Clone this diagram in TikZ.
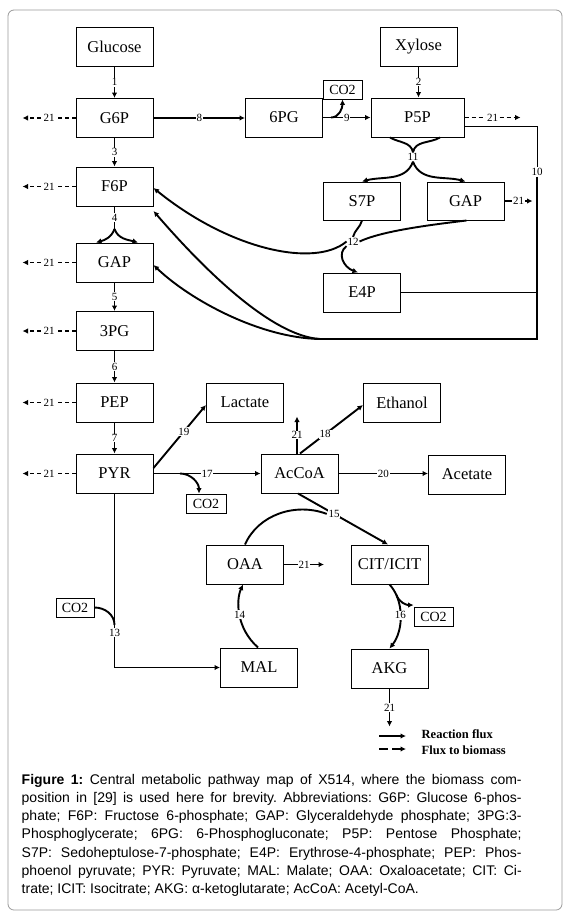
\documentclass[tikz,border=0pt]{standalone}
\usepackage{fontspec}
\setmainfont{Liberation Serif}
\newfontfamily\capfont{Liberation Sans}
\usetikzlibrary{arrows.meta}
\frenchspacing
\begin{document}
\begin{tikzpicture}[x=1pt,y=-1pt,
  box/.style={draw, line width=1pt, minimum width=77pt, minimum height=39pt, inner sep=0pt, font=\fontsize{16.5}{18}\selectfont},
  cobox/.style={draw, line width=0.9pt, minimum width=39pt, minimum height=19pt, inner sep=0pt, font=\fontsize{14}{16}\selectfont},
  flux/.style={line width=1.9pt, -{Latex[length=5.5pt,width=5.5pt]}},
  bio/.style={flux, dash pattern=on 4pt off 3pt},
  conn/.style={line width=1.9pt},
  lbl/.style={fill=white, inner sep=0.8pt, font=\fontsize{11}{12}\selectfont},
  legtext/.style={anchor=west, inner sep=0pt, font=\bfseries\fontsize{12.5}{14}\selectfont}
]
\useasboundingbox (0,0) rectangle (570,918);
\draw[black!40, line width=0.8pt, rounded corners=6pt] (8,10) rectangle (562,910);

% boxes
\node[box] (Glc) at (114.5,46.5) {Glucose};
\node[box] (G6P) at (114.5,118) {G6P};
\node[box] (F6P) at (114.5,186.5) {F6P};
\node[box] (GAPl) at (114.5,262.5) {GAP};
\node[box] (PG3) at (114.5,331) {3PG};
\node[box] (PEP) at (114.5,402.5) {PEP};
\node[box] (PYR) at (114.5,473.5) {PYR};
\node[box] (PG6) at (284,117.5) {6PG};
\node[box] (Xyl) at (418.5,46.5) {Xylose};
\node[box, minimum width=93pt] (P5P) at (417.5,117.5) {P5P};
\node[box, minimum height=38pt] (S7P) at (362,201) {S7P};
\node[box, minimum height=38pt] (GAPr) at (465.5,201) {GAP};
\node[box] (E4P) at (362,292.5) {E4P};
\node[box] (Lac) at (245,402.5) {Lactate};
\node[box] (Eth) at (402,402.5) {Ethanol};
\node[box] (AcCoA) at (299.5,473.5) {AcCoA};
\node[box] (Ace) at (467,474.5) {Acetate};
\node[box] (OAA) at (245,564.5) {OAA};
\node[box] (CIT) at (389.5,564.5) {CIT/ICIT};
\node[box] (MAL) at (259,667.5) {MAL};
\node[box] (AKG) at (389.5,668.5) {AKG};
\node[cobox] (COa) at (342.5,89.5) {CO2};
\node[cobox, minimum width=40pt] (COb) at (206,503.5) {CO2};
\node[cobox, minimum width=38pt] (COc) at (75,607.5) {CO2};
\node[cobox] (COd) at (433.5,616.5) {CO2};

% glycolysis
\draw[flux] (Glc.south) -- node[lbl]{1} (G6P.north);
\draw[flux] (G6P.south) -- node[lbl]{3} (F6P.north);
\coordinate (s4) at (114.5,229);
\draw[conn] (F6P.south) -- node[lbl]{4} (s4);
\draw[flux] (s4) to[out=-110,in=15] ([xshift=-18.5pt]GAPl.north);
\draw[flux] (s4) to[out=-70,in=165] ([xshift=23.5pt]GAPl.north);
\draw[flux] (GAPl.south) -- node[lbl]{5} (PG3.north);
\draw[flux] (PG3.south) -- node[lbl]{6} (PEP.north);
\draw[flux] (PEP.south) -- node[lbl]{7} (PYR.north);

% biomass arrows on the left
\foreach \n in {G6P,F6P,GAPl,PG3,PEP,PYR}
  \draw[bio] (\n.west) -- node[lbl]{21} ([xshift=-53pt]\n.west);

% pentose phosphate
\draw[flux] (Xyl.south) -- node[lbl]{2} (Xyl.south |- P5P.north);
\draw[flux] (G6P.east) -- node[lbl]{8} (G6P.east -| PG6.west);
\draw[flux] (PG6.east) -- node[lbl]{9} (P5P.west);
\coordinate (b9) at (331,117.5);
\draw[flux] (b9) to[out=0,in=-90] (COa.south);
\draw[bio] (P5P.east) -- node[lbl]{21} ([xshift=56pt]P5P.east);
\draw[flux] (GAPr.east) -- node[lbl]{21} ([xshift=28pt]GAPr.east);

\node[lbl] (r11) at (413,157) {11};
\draw[conn] ([xshift=-27.5pt]P5P.south) to[out=-30,in=100] (r11.north);
\draw[conn] ([xshift=22.5pt]P5P.south) to[out=210,in=80] (r11.north);
\draw[flux] (r11.south) to[out=-110,in=15] (S7P.north);
\draw[flux] (r11.south) to[out=-70,in=165] (GAPr.north);

\node[lbl] (r12) at (353,241.5) {12};
\draw[conn] (S7P.south) to[out=-105,in=75] (r12.north);
\draw[conn] ([xshift=1pt]GAPr.south) .. controls (420,226) and (380,232) .. (r12.east);
\draw[flux] (r12.south west) .. controls (337,253) and (343,267) .. ([xshift=-4pt]E4P.north);
\draw[flux] (r12.west) .. controls (315,268) and (230,250) .. ([yshift=-1.5pt]F6P.east);

\node[lbl] (r10) at (537,172) {10};
\coordinate (c10a) at (537,126);
\coordinate (c10b) at (537,339);
\coordinate (c10c) at (320,339);
\coordinate (c10e) at (537,292.5);
\draw[line width=1pt] ([yshift=-8.5pt]P5P.east) -- (c10a) -- (r10.north);
\draw[conn] (r10.south) -- (c10b) -- (c10c);
\draw[conn] (E4P.east) -- (c10e);
\draw[flux] (c10c) .. controls (270,336) and (200,265) .. ([yshift=-4.5pt]F6P.south east);
\draw[flux] (c10c) .. controls (260,338) and (190,300) .. ([yshift=-2.5pt]GAPl.east);

% pyruvate branch
\draw[flux] (PYR.east) -- node[lbl]{17} (AcCoA.west);
\coordinate (b17) at (180,473.5);
\draw[flux] (b17) to[out=0,in=90] ([xshift=-7pt]COb.north);
\draw[flux] ([yshift=5.5pt]PYR.east) -- node[lbl,pos=0.58]{19} ([yshift=-2.5pt]Lac.west);
\draw[flux] ([xshift=0.5pt]AcCoA.north) -- node[lbl,pos=0.4]{18} ([yshift=-2.5pt]Eth.west);
\draw[flux] ([xshift=-2.5pt]AcCoA.north) -- node[lbl]{21} ([xshift=-2.5pt,yshift=37pt]AcCoA.north);
\draw[flux] (AcCoA.east) -- node[lbl]{20} (AcCoA.east -| Ace.west);
\draw[flux] ([xshift=-1.5pt]AcCoA.south) -- node[lbl,pos=0.4] (r15) {15} ([xshift=-1.5pt]CIT.north);
\draw[conn] (OAA.north) .. controls (258,515) and (295,502) .. (r15.west);
\draw[flux] (OAA.east) -- node[lbl]{21} ([xshift=40pt]OAA.east);

\draw[flux] (PYR.south) |- node[lbl,pos=0.4]{13} (MAL.west);
\coordinate (b13) at (114.5,625);
\draw[conn] (COc.east) to[out=0,in=90] (b13);
\draw[flux] ([xshift=-1pt]MAL.north) .. controls (236,628) and (236,600) .. node[lbl]{14} ([xshift=-2pt]OAA.south);

\draw[flux] (CIT.south) .. controls (404,600) and (404,630) .. node[lbl]{16} (AKG.north);
\coordinate (b16) at (396.5,595);
\draw[flux] (b16) to[out=-70,in=180] ([yshift=1.5pt]COd.north west);
\draw[flux] (AKG.south) -- node[lbl]{21} ([yshift=-38pt]AKG.south);

% legend
\coordinate (lga) at (379,736);
\coordinate (lgb) at (406,736);
\coordinate (lgc) at (379,749);
\coordinate (lgd) at (406,749);
\draw[flux] (lga) -- (lgb);
\draw[flux, dash pattern=on 9pt off 4pt] (lgc) -- (lgd);
\node[legtext] (lt1) at (421.5,734) {Reaction flux};
\node[legtext] (lt2) at (421.5,750) {Flux to biomass};

% caption
\node[anchor=base west, inner sep=0pt, font=\capfont\fontsize{14}{18.3}\selectfont] (cap) at (21.5,784) {\vtop{\baselineskip=18.3pt
\hbox to 500pt{\textbf{Figure 1:} Central metabolic pathway map of X514, where the biomass com-}
\hbox to 500pt{position in [29] is used here for brevity. Abbreviations: G6P: Glucose 6-phos-}
\hbox to 500pt{phate; F6P: Fructose 6-phosphate; GAP: Glyceraldehyde phosphate; 3PG:3-}
\hbox to 500pt{Phosphoglycerate; 6PG: 6-Phosphogluconate; P5P: Pentose Phosphate;}
\hbox to 500pt{S7P: Sedoheptulose-7-phosphate; E4P: Erythrose-4-phosphate; PEP: Phos-}
\hbox to 500pt{phoenol pyruvate; PYR: Pyruvate; MAL: Malate; OAA: Oxaloacetate; CIT: Ci-}
\hbox{trate; ICIT: Isocitrate; AKG: α-ketoglutarate; AcCoA: Acetyl-CoA.}}};
\end{tikzpicture}
\end{document}
